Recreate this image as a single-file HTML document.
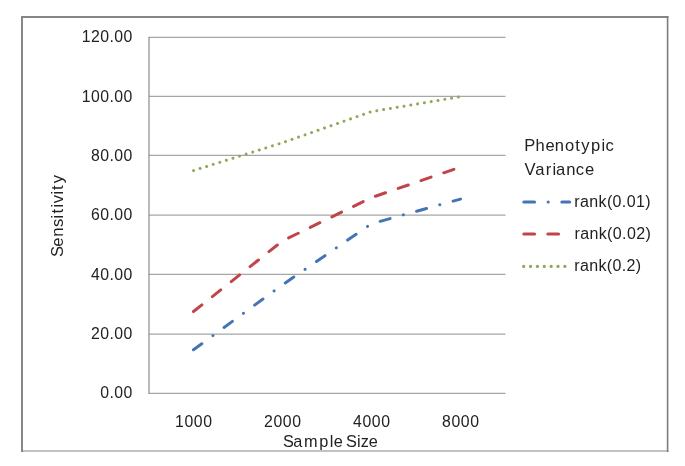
<!DOCTYPE html>
<html><head><meta charset="utf-8">
<style>
html,body{margin:0;padding:0;background:#fff;}
body{width:685px;height:466px;overflow:hidden;}
svg{display:block;will-change:transform;}
text{font-family:"Liberation Sans",sans-serif;fill:#222;}
</style></head>
<body>
<svg width="685" height="466" viewBox="0 0 685 466">
<rect x="0" y="0" width="685" height="466" fill="#fff"/>
<g fill="none">
<line x1="21" y1="17" x2="668.4" y2="17" stroke="#858585" stroke-width="2"/>
<line x1="21" y1="451" x2="668.4" y2="451" stroke="#c2c2c2" stroke-width="2"/>
<line x1="22" y1="16" x2="22" y2="452" stroke="#888" stroke-width="2"/>
<line x1="667.6" y1="16" x2="667.6" y2="452" stroke="#7d7d7d" stroke-width="1.6"/>
</g>
<g stroke="#a6a6a6" stroke-width="1.25">
<line x1="149" y1="334.00" x2="505.5" y2="334.00"/>
<line x1="149" y1="274.45" x2="505.5" y2="274.45"/>
<line x1="149" y1="215.00" x2="505.5" y2="215.00"/>
<line x1="149" y1="155.45" x2="505.5" y2="155.45"/>
<line x1="149" y1="96.45" x2="505.5" y2="96.45"/>
<line x1="149" y1="37.45" x2="505.5" y2="37.45"/>
<line x1="149" y1="393.40" x2="505.5" y2="393.40"/>
<line x1="149" y1="36.80" x2="149" y2="394.00" stroke="#8c8c8c" stroke-width="1.2"/>
</g>
<g fill="none" stroke-width="3.0" stroke-linecap="round" stroke-linejoin="round">
<polyline stroke="#8fa95a" stroke-dasharray="0.01 6.88" points="193.50,170.60 282.50,142.72 371.50,111.57 460.50,96.73"/>
<polyline stroke="#bf4549" stroke-dasharray="10.7 13.38" points="193.50,311.52 282.50,240.91 371.50,197.60 460.50,167.04"/>
<polyline stroke="#4574b5" stroke-dasharray="10.3 13.77 0.01 13.77" points="193.50,349.79 282.50,284.82 371.50,223.71 460.50,199.08"/>
</g>
<g font-size="15.8" letter-spacing="0.42" text-anchor="end">
<text x="132.70" y="398.30">0.00</text>
<text x="132.70" y="338.97">20.00</text>
<text x="132.70" y="279.63">40.00</text>
<text x="132.70" y="220.30">60.00</text>
<text x="132.70" y="160.97">80.00</text>
<text x="132.70" y="101.63">100.00</text>
<text x="132.70" y="42.30">120.00</text>
</g>
<g font-size="15.8" letter-spacing="0.6" text-anchor="middle">
<text x="193.80" y="427.00">1000</text>
<text x="282.80" y="427.00">2000</text>
<text x="371.80" y="427.00">4000</text>
<text x="460.80" y="427.00">8000</text>
</g>
<text x="282.96 293.23 304.09 319.30 329.69 333.79 339.79 346.01 357.04 360.75 368.74" y="446.7" font-size="16.3">Sample Size</text>
<text transform="translate(62.5,255.75) rotate(-90)" x="-1.35 9.12 19.12 28.82 37.38 42.28 48.28 52.56 61.18 65.78 72.41" y="0" font-size="16.6">Sensitivity</text>
<text x="524.30 535.62 545.42 554.67 565.02 575.23 581.33 591.09 601.39 605.60" y="150.6" font-size="16.5">Phenotypic</text>
<text x="524.59 535.25 545.81 552.38 555.95 566.33 575.84 585.02" y="174.6" font-size="16.6">Variance</text>
<g fill="none" stroke-width="3.0" stroke-linecap="round">
<line x1="523.9" y1="202.0" x2="569.6" y2="202.0" stroke="#4574b5" stroke-width="3.2" stroke-dasharray="10.6 13.7 0.01 13.7"/>
<line x1="523.9" y1="234.0" x2="569.6" y2="234.0" stroke="#bf4549" stroke-width="3.2" stroke-dasharray="10.6 13.4"/>
<line x1="523.7" y1="266.4" x2="569.6" y2="266.4" stroke="#8fa95a" stroke-width="3.3" stroke-dasharray="0.01 6.85"/>
</g>
<g font-size="16" letter-spacing="0.37">
<text x="574.3" y="206.8">rank(0.01)</text>
<text x="574.5" y="238.8">rank(0.02)</text>
<text x="574.2" y="270.9">rank(0.2)</text>
</g>
</svg>
</body></html>
